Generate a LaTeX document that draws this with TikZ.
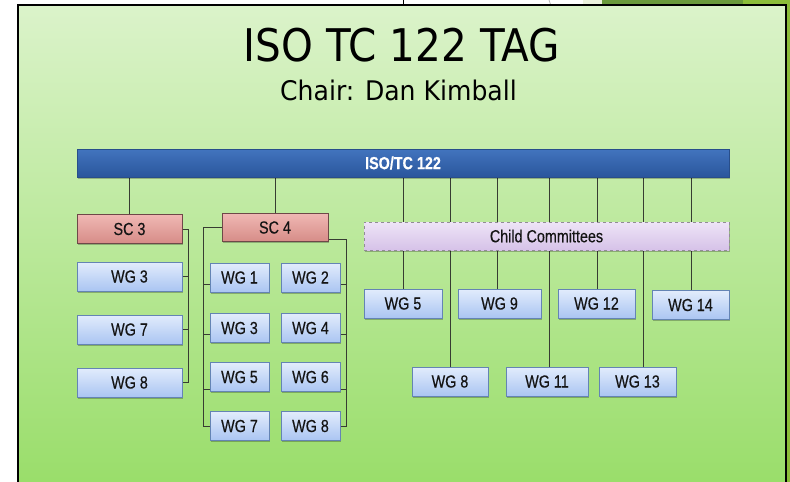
\documentclass[tikz,border=0pt]{standalone}
\usepackage{fontspec}
\setmainfont{Liberation Sans}
\newfontfamily\boxfont[FakeStretch=0.82,FakeBold=0.4]{Liberation Sans}
\newfontfamily\titlefont[FakeStretch=0.9]{DejaVu Sans}
\newfontfamily\chairfont[FakeStretch=0.93]{DejaVu Sans}
\usetikzlibrary{shadows,calc}
\definecolor{paneltop}{RGB}{219,243,202}
\definecolor{panelbot}{RGB}{152,221,104}
\definecolor{decodark}{RGB}{106,153,60}
\definecolor{decolight}{RGB}{140,189,58}
\definecolor{decopale}{RGB}{236,242,222}
\definecolor{bartop}{RGB}{66,116,190}
\definecolor{barbot}{RGB}{42,86,156}
\definecolor{barborder}{RGB}{40,78,138}
\definecolor{sctop}{RGB}{240,184,180}
\definecolor{scbot}{RGB}{214,140,135}
\definecolor{scborder}{RGB}{110,72,72}
\definecolor{cctop}{RGB}{238,228,247}
\definecolor{ccbot}{RGB}{214,194,232}
\definecolor{ccborder}{RGB}{145,140,150}
\definecolor{wgtop}{RGB}{226,236,252}
\definecolor{wgbot}{RGB}{170,197,242}
\definecolor{wgborder}{RGB}{100,132,180}
\definecolor{linecol}{RGB}{55,60,50}
\definecolor{textdark}{RGB}{20,20,20}
\pgfdeclarelayer{bottom}
\pgfdeclarelayer{lines}
\pgfsetlayers{bottom,lines,main}
\begin{document}
\begin{tikzpicture}[x=1pt,y=-1pt,
  shad/.style={drop shadow={shadow xshift=1pt,shadow yshift=-1.5pt,opacity=0.25,fill=black}},
  basebox/.style={shad,line width=0.8pt,inner sep=0pt,minimum height=29pt,
    font=\boxfont\fontsize{17.5}{19}\selectfont,text=textdark},
  wg/.style={basebox,draw=wgborder,top color=wgtop,bottom color=wgbot,minimum width=#1},
  sc/.style={basebox,draw=scborder,top color=sctop,bottom color=scbot,minimum width=#1},
  conn/.style={draw=linecol,line width=0.9pt}]
\useasboundingbox (0,0) rectangle (790,482);
% page background and decorations
\begin{pgfonlayer}{bottom}
\fill[white] (0,0) rectangle (790,482);
\fill[decolight] (743,0) rectangle (790,482);
\fill[decodark] (602,0) rectangle (743,6);
\fill[decopale] (583,0) rectangle (602,6);
\draw[gray!55,line width=0.8pt] (549,0) -- (551,6);
\draw[black,line width=1pt] (403,0) -- (403,6);
\draw[black,line width=2pt,top color=paneltop,bottom color=panelbot] (17.7,5) rectangle (786,495);
\end{pgfonlayer}
% titles
\node[anchor=base,inner sep=0pt,font=\titlefont\fontsize{45}{50}\selectfont] (title) at (402,61.7) {ISO TC 122 TAG};
\node[anchor=base,inner sep=0pt,font=\chairfont\fontsize{27}{30}\selectfont] (chair) at (398.5,100) {Chair: Dan Kimball};
% top bar
\node[shad,draw=barborder,top color=bartop,bottom color=barbot,line width=0.8pt,
  minimum width=652pt,minimum height=28pt,inner sep=0pt,text=white,
  font=\boxfont\bfseries\fontsize{17.5}{19}\selectfont] (bar) at (403,163) {ISO/TC 122};
% SC nodes
\node[sc=105pt] (sc3) at (129.5,229) {SC 3};
\node[sc=106pt,minimum height=28.5pt] (sc4) at (275,227.5) {SC 4};
\node[basebox,draw=ccborder,dashed,top color=cctop,bottom color=ccbot,minimum width=365pt,minimum height=28pt] (cc) at (546.5,236) {Child Committees};
% SC3 WGs
\node[wg=105pt] (wg3a) at (129.5,276.5) {WG 3};
\node[wg=105pt] (wg7a) at (129.5,329.5) {WG 7};
\node[wg=105pt] (wg8a) at (129.5,382.5) {WG 8};
% SC4 WGs
\node[wg=59pt] (s4wg1) at (239.5,277.5) {WG 1};
\node[wg=59pt] (s4wg2) at (310.5,277.5) {WG 2};
\node[wg=59pt] (s4wg3) at (239.5,328) {WG 3};
\node[wg=59pt] (s4wg4) at (310.5,328) {WG 4};
\node[wg=59pt] (s4wg5) at (239.5,377) {WG 5};
\node[wg=59pt] (s4wg6) at (310.5,377) {WG 6};
\node[wg=59pt] (s4wg7) at (239.5,426) {WG 7};
\node[wg=59pt] (s4wg8) at (310.5,426) {WG 8};
% child committee WGs
\node[wg=78pt] (wg5c) at (403,303.5) {WG 5};
\node[wg=83pt] (wg9) at (499.5,303.5) {WG 9};
\node[wg=77pt] (wg12) at (596.5,303.5) {WG 12};
\node[wg=77pt] (wg14) at (690.5,305) {WG 14};
\node[wg=76pt] (wg8c) at (450,381.5) {WG 8};
\node[wg=82pt] (wg11) at (547,381.5) {WG 11};
\node[wg=77pt] (wg13) at (637.5,381.5) {WG 13};
% connectors
\coordinate (t9) at ($(wg9.north)+(-1.8,0)$);
\coordinate (t11) at ($(wg11.north)+(2.3,0)$);
\coordinate (t12) at ($(wg12.north)+(0.5,0)$);
\coordinate (t13) at ($(wg13.north)+(5.8,0)$);
\coordinate (t14) at ($(wg14.north)+(1.2,0)$);
\coordinate (tb) at ($(sc3.east)+(6,0)$);
\coordinate (lb) at ($(sc4.west)+(-18,0)$);
\coordinate (rb0) at ($(sc4.south east)+(0,-2.7)$);
\coordinate (rb) at ($(s4wg2.east)+(5.7,0)$);
\coordinate (l1) at ($(s4wg1.west)+(0,6.5)$);
\coordinate (l3) at ($(s4wg3.west)+(0,6)$);
\coordinate (l5) at ($(s4wg5.west)+(0,12.3)$);
\coordinate (r2) at ($(s4wg2.east)+(0,6.5)$);
\coordinate (r4) at ($(s4wg4.east)+(0,6)$);
\coordinate (r6) at ($(s4wg6.east)+(0,12.3)$);
\begin{pgfonlayer}{lines}
\draw[conn] (sc3.north |- bar.south) -- (sc3.north);
\draw[conn] (sc4.north |- bar.south) -- (sc4.north);
\draw[conn] (wg5c.north |- bar.south) -- (wg5c.north);
\draw[conn] (wg8c.north |- bar.south) -- (wg8c.north);
\draw[conn] (t9 |- bar.south) -- (t9);
\draw[conn] (t11 |- bar.south) -- (t11);
\draw[conn] (t12 |- bar.south) -- (t12);
\draw[conn] (t13 |- bar.south) -- (t13);
\draw[conn] (t14 |- bar.south) -- (t14);
% SC3 bracket
\draw[conn] (sc3.east) -- (tb) -- (tb |- wg8a.east) -- (wg8a.east);
\draw[conn] (wg3a.east) -- (tb |- wg3a.east);
\draw[conn] (wg7a.east) -- (tb |- wg7a.east);
% SC4 left bracket
\draw[conn] (sc4.west) -- (lb) -- (lb |- s4wg7.west) -- (s4wg7.west);
\draw[conn] (lb |- l1) -- (l1);
\draw[conn] (lb |- l3) -- (l3);
\draw[conn] (lb |- l5) -- (l5);
% SC4 right bracket
\draw[conn] (rb0) -- (rb0 -| rb) -- (rb |- s4wg8.east) -- (s4wg8.east);
\draw[conn] (rb |- r2) -- (r2);
\draw[conn] (rb |- r4) -- (r4);
\draw[conn] (rb |- r6) -- (r6);
\end{pgfonlayer}
\end{tikzpicture}
\end{document}
